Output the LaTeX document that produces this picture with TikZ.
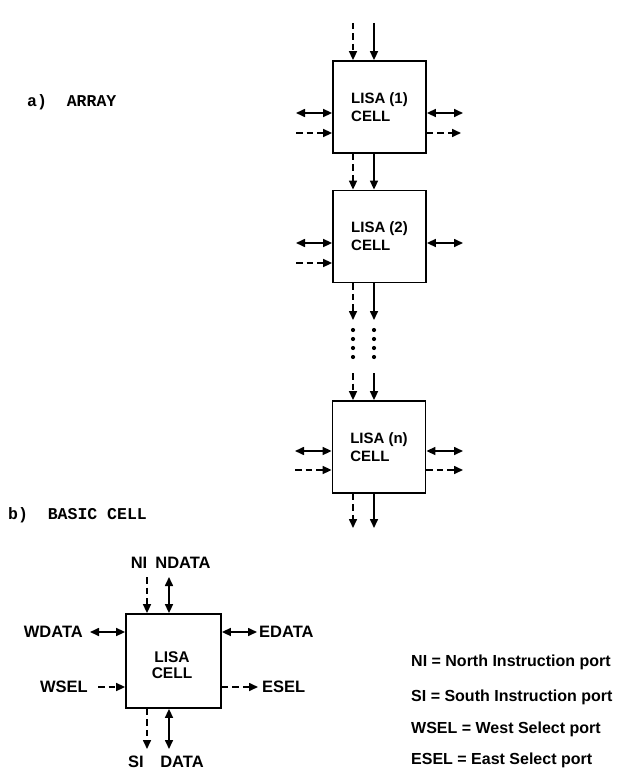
\documentclass[tikz,border=0pt]{standalone}
\usepackage{fontspec}
\setmainfont{Liberation Sans}
\newfontfamily\twfont{Liberation Mono}
\usetikzlibrary{arrows.meta}
\begin{document}
\begin{tikzpicture}[x=1pt,y=-1pt,
  cellbox/.style={draw, line width=1.8pt, minimum width=93pt, minimum height=92pt, inner sep=0pt,
    font=\fontsize{15}{18}\selectfont\bfseries, align=left},
  tip/.tip={Triangle[length=9pt,width=8pt]},
  sig/.style={line width=1.6pt, -tip},
  bidir/.style={line width=1.6pt, tip-tip},
  dsh/.style={sig, dash pattern=on 6.5pt off 4pt},
  lbl/.style={font=\fontsize{16.5}{18}\selectfont\bfseries, inner sep=0pt},
  leg/.style={font=\fontsize{16}{18}\selectfont\bfseries, inner sep=0pt, anchor=west},
  tw/.style={font=\twfont\bfseries\fontsize{16.5}{18}\selectfont, inner sep=0pt, anchor=west},
  dotn/.style={circle, fill, inner sep=0pt, minimum size=4.2pt}
]
\useasboundingbox (0,0) rectangle (628,781);

% section titles
\node[tw] (ta) at (27,102) {a)~~ARRAY};
\node[tw] (tb) at (8,515) {b)~~BASIC CELL};

% ---------- array ----------
\node[cellbox] (b1) at (379.5,107) {LISA (1)\\CELL};
\node[cellbox] (b2) at (379.5,236.5) {LISA (2)\\CELL};
\node[cellbox] (bn) at (379,447) {LISA (n)\\CELL};

% top of cell 1
\coordinate (t1a) at (353,23);
\coordinate (t1b) at (374,23);
\draw[dsh] (t1a) -- (t1a |- b1.north);
\draw[sig] (t1b) -- (t1b |- b1.north);

% cell 1 sides
\coordinate (l1a) at (296,113);
\coordinate (l1b) at (296,133);
\coordinate (r1a) at (463,113);
\coordinate (r1b) at (461,133);
\draw[bidir] (l1a) -- (l1a -| b1.west);
\draw[dsh] (l1b) -- (l1b -| b1.west);
\draw[bidir] (b1.east |- r1a) -- (r1a);
\draw[dsh] (b1.east |- r1b) -- (r1b);

% cell 1 -> cell 2
\coordinate (c12a) at (353,0);
\coordinate (c12b) at (374,0);
\draw[dsh] (c12a |- b1.south) -- (c12a |- b2.north);
\draw[sig] (c12b |- b1.south) -- (c12b |- b2.north);

% cell 2 sides
\coordinate (l2a) at (296,243);
\coordinate (l2b) at (296,263);
\coordinate (r2a) at (463,243);
\draw[bidir] (l2a) -- (l2a -| b2.west);
\draw[dsh] (l2b) -- (l2b -| b2.west);
\draw[bidir] (b2.east |- r2a) -- (r2a);

% cell 2 -> dots
\coordinate (e2a) at (353,320);
\coordinate (e2b) at (374,320);
\draw[dsh] (e2a |- b2.south) -- (e2a);
\draw[sig] (e2b |- b2.south) -- (e2b);

\foreach \yy [count=\i] in {330,339,348,357} {
  \node[dotn] (da\i) at (353,\yy) {};
  \node[dotn] (ds\i) at (374,\yy) {};
}

% dots -> cell n
\coordinate (sna) at (353,373);
\coordinate (snb) at (374,373);
\draw[dsh] (sna) -- (sna |- bn.north);
\draw[sig] (snb) -- (snb |- bn.north);

% cell n sides
\coordinate (lna) at (295,451);
\coordinate (lnb) at (295,470);
\coordinate (rna) at (463,451);
\coordinate (rnb) at (463,470);
\draw[bidir] (lna) -- (lna -| bn.west);
\draw[dsh] (lnb) -- (lnb -| bn.west);
\draw[bidir] (bn.east |- rna) -- (rna);
\draw[dsh] (bn.east |- rnb) -- (rnb);

% below cell n
\coordinate (bna) at (353,528);
\coordinate (bnb) at (374,528);
\draw[dsh] (bna |- bn.south) -- (bna);
\draw[sig] (bnb |- bn.south) -- (bnb);

% ---------- basic cell ----------
\node[cellbox, minimum width=95pt, minimum height=94pt] (bc) at (173.5,661) {};
\node[align=center, inner sep=0pt, font=\fontsize{15.5}{15.5}\selectfont\bfseries] (bct) at (172,665) {LISA\\CELL};

\node[lbl] (ni) at (139,563) {NI};
\node[lbl] (nd) at (183,563) {NDATA};
\node[lbl] (si) at (136,762) {SI};
\node[lbl] (da) at (182,762) {DATA};
\node[lbl, anchor=east] (wd) at (83,632) {WDATA};
\node[lbl, anchor=west] (ed) at (259,632) {EDATA};
\node[lbl, anchor=east] (ws) at (88,687) {WSEL};
\node[lbl, anchor=west] (es) at (262,687) {ESEL};

\coordinate (nia) at (147,577);
\coordinate (nib) at (169,577);
\draw[dsh] (nia) -- (nia |- bc.north);
\draw[bidir] (nib) -- (nib |- bc.north);

\coordinate (sia) at (147,749);
\coordinate (sib) at (169,749);
\draw[dsh] (sia |- bc.south) -- (sia);
\draw[bidir] (sib |- bc.south) -- (sib);

\coordinate (wda) at (90,632);
\coordinate (wsa) at (98,687);
\draw[bidir] (wda) -- (wda -| bc.west);
\draw[dsh] (wsa) -- (wsa -| bc.west);

\coordinate (eda) at (257,632);
\coordinate (esa) at (258,687);
\draw[bidir] (bc.east |- eda) -- (eda);
\draw[dsh] (bc.east |- esa) -- (esa);

% legend
\node[leg] (g1) at (411,662) {NI = North Instruction port};
\node[leg] (g2) at (411,697) {SI = South Instruction port};
\node[leg] (g3) at (411,729) {WSEL = West Select port};
\node[leg] (g4) at (411,760) {ESEL = East Select port};
\end{tikzpicture}
\end{document}
